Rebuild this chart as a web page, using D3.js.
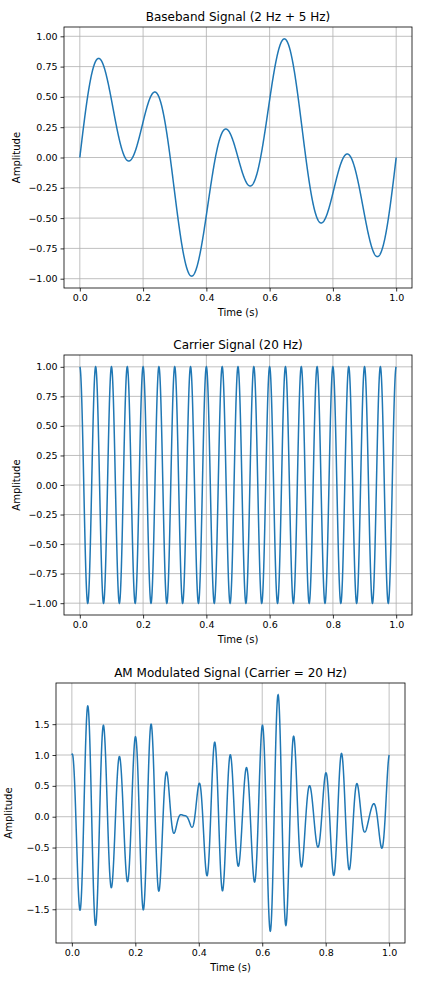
<!DOCTYPE html>
<html><head><meta charset="utf-8">
<script src="https://cdn.jsdelivr.net/npm/d3@7"></script>
<style>body{margin:0;background:#fff}svg{font-family:"DejaVu Sans",sans-serif}</style>
</head><body><svg id="c" width="438" height="981"></svg>
<script>
// Signal components read from the titles / picture
const baseFreqs = [2, 5];          // Hz
const baseAmps = [0.5, 0.5];
const carrierFreq = 20;            // Hz
const carrierAmp = 1;
const xTicks = [0.0, 0.2, 0.4, 0.6, 0.8, 1.0];
const yTicks12 = [-1.0, -0.75, -0.5, -0.25, 0.0, 0.25, 0.5, 0.75, 1.0];
const yTicks3 = [-1.5, -1.0, -0.5, 0.0, 0.5, 1.0, 1.5];
const titles = ["Baseband Signal (2 Hz + 5 Hz)", "Carrier Signal (20 Hz)", "AM Modulated Signal (Carrier = 20 Hz)"];

const N = 2000;
const t = d3.range(N + 1).map(i => i / N);
const base = t.map(x => d3.sum(baseFreqs, (f, k) => baseAmps[k] * Math.sin(2 * Math.PI * f * x)));
const carrier = t.map(x => carrierAmp * Math.cos(2 * Math.PI * carrierFreq * x));
const am = t.map((x, i) => (1 + base[i]) * carrier[i]);

const svg = d3.select("#c");
const panels = [
  {y: base, ticks: yTicks12, L: 64, R: 412, T: 27, B: 288, fmt: d3.format(".2f")},
  {y: carrier, ticks: yTicks12, L: 64, R: 412, T: 355, B: 615, fmt: d3.format(".2f")},
  {y: am, ticks: yTicks3, L: 56, R: 405, T: 683, B: 943, fmt: d3.format(".1f")}
];
panels.forEach((p, idx) => {
  const [lo, hi] = d3.extent(p.y); const pad = (hi - lo) * 0.05;
  const x = d3.scaleLinear().domain([-0.05, 1.05]).range([p.L, p.R]);
  const y = d3.scaleLinear().domain([lo - pad, hi + pad]).range([p.B, p.T]);
  const g = svg.append("g");
  g.selectAll(".gx").data(xTicks).join("line").attr("x1", d => x(d)).attr("x2", d => x(d))
    .attr("y1", p.T).attr("y2", p.B).attr("stroke", "#b0b0b0").attr("stroke-width", 0.8);
  g.selectAll(".gy").data(p.ticks).join("line").attr("y1", d => y(d)).attr("y2", d => y(d))
    .attr("x1", p.L).attr("x2", p.R).attr("stroke", "#b0b0b0").attr("stroke-width", 0.8);
  g.append("path").datum(t).attr("fill", "none").attr("stroke", "#1f77b4").attr("stroke-width", 1.5)
    .attr("d", d3.line().x(d => x(d)).y((d, i) => y(p.y[i])));
  g.append("rect").attr("x", p.L).attr("y", p.T).attr("width", p.R - p.L).attr("height", p.B - p.T)
    .attr("fill", "none").attr("stroke", "#000").attr("stroke-width", 0.8);
  const ax = g.append("g").attr("transform", `translate(0,${p.B})`)
    .call(d3.axisBottom(x).tickValues(xTicks).tickFormat(d3.format(".1f")).tickSize(3.5).tickPadding(3));
  const ay = g.append("g").attr("transform", `translate(${p.L},0)`)
    .call(d3.axisLeft(y).tickValues(p.ticks).tickFormat(p.fmt).tickSize(3.5).tickPadding(3));
  [ax, ay].forEach(a => { a.select(".domain").remove(); a.selectAll("text").attr("font-size", 9.5).attr("fill", "#000").attr("font-family", "DejaVu Sans"); a.selectAll("line").attr("stroke", "#000").attr("stroke-width", 0.8); });
  g.append("text").attr("x", (p.L + p.R) / 2).attr("y", p.T - 6).attr("text-anchor", "middle").attr("font-size", 12).text(titles[idx]);
  g.append("text").attr("x", (p.L + p.R) / 2).attr("y", p.B + 28).attr("text-anchor", "middle").attr("font-size", 10).text("Time (s)");
  g.append("text").attr("transform", `translate(${p.L - 44},${(p.T + p.B) / 2}) rotate(-90)`).attr("text-anchor", "middle").attr("font-size", 10).text("Amplitude");
});
</script></body></html>
